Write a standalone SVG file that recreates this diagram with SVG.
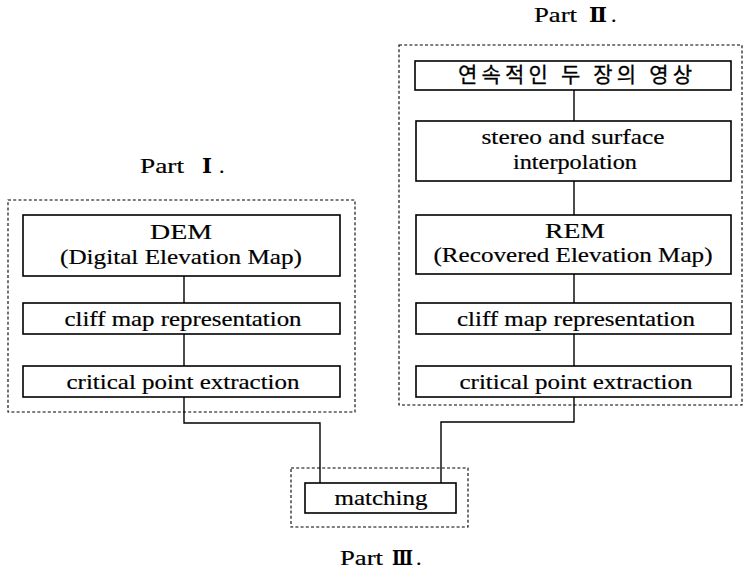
<svg xmlns="http://www.w3.org/2000/svg" width="745" height="569" viewBox="0 0 745 569">
<style>
.bg{fill:#fff}
.box{fill:#fff;stroke:#000;stroke-width:1.6}
.grp{fill:none;stroke:#000;stroke-width:1.1;stroke-dasharray:3 2.2}
.conn{fill:none;stroke:#000;stroke-width:1.4}
.t{font-size:22px;fill:#000;stroke:#000;stroke-width:0.2;text-anchor:middle}
.k{font-size:21px;fill:#000;stroke:#000;stroke-width:0.3;text-anchor:middle}
.lbl{font-size:22px;fill:#000;stroke:#000;stroke-width:0.2}
.num{font-size:20px;font-weight:bold;fill:#000}
</style>
<rect class="bg" x="0" y="0" width="745" height="569"/>

<g id="groups">
  <rect id="part1-frame" class="grp" x="8" y="200" width="347" height="212"/>
  <rect id="part2-frame" class="grp" x="399" y="45" width="343" height="360"/>
  <rect id="part3-frame" class="grp" x="291" y="468" width="177" height="59"/>
</g>

<g id="labels" font-family="'Liberation Serif', 'Times New Roman', serif">
  <text class="lbl" x="140" y="173" textLength="44" lengthAdjust="spacingAndGlyphs">Part</text>
  <text class="num" x="202" y="173" font-family="'DejaVu Serif', serif" textLength="10" lengthAdjust="spacingAndGlyphs">Ⅰ</text>
  <text class="lbl" x="219" y="173">.</text>

  <text class="lbl" x="534" y="22" textLength="43" lengthAdjust="spacingAndGlyphs">Part</text>
  <text class="num" x="589" y="22" font-family="'DejaVu Serif', serif" textLength="18" lengthAdjust="spacingAndGlyphs">Ⅱ</text>
  <text class="lbl" x="611" y="22">.</text>

  <text class="lbl" x="340" y="565" textLength="43" lengthAdjust="spacingAndGlyphs">Part</text>
  <text class="num" x="392" y="565" font-family="'DejaVu Serif', serif" textLength="21" lengthAdjust="spacingAndGlyphs">Ⅲ</text>
  <text class="lbl" x="416" y="565">.</text>
</g>

<g id="connectors">
  <path class="conn" d="M184 276 V303 M184 334 V366 M184 397 V423 H320 V483"/>
  <path class="conn" d="M574 90 V121 M574 181 V215 M574 274 V303 M574 334 V366 M574 397 V422 H441 V483"/>
</g>

<g id="nodes" font-family="'Liberation Serif', 'Times New Roman', serif">
<g id="dem">
  <rect class="box" x="23" y="215" width="317" height="61"/>
  <text class="t" x="181" y="239" textLength="62" lengthAdjust="spacingAndGlyphs">DEM</text>
  <text class="t" x="181" y="264" textLength="242" lengthAdjust="spacingAndGlyphs">(Digital Elevation Map)</text>
</g>
<g id="cliff1">
  <rect class="box" x="23" y="303" width="317" height="31"/>
  <text class="t" x="183" y="326" textLength="237" lengthAdjust="spacingAndGlyphs">cliff map representation</text>
</g>
<g id="critical1">
  <rect class="box" x="23" y="366" width="317" height="31"/>
  <text class="t" x="183" y="389" textLength="233" lengthAdjust="spacingAndGlyphs">critical point extraction</text>
</g>

<g id="images">
  <rect class="box" x="415" y="61" width="316" height="29"/>
  <text class="k" x="575" y="82" font-family="'Noto Sans CJK KR', sans-serif" textLength="234" lengthAdjust="spacing">연속적인 두 장의 영상</text>
</g>
<g id="stereo">
  <rect class="box" x="416" y="121" width="315" height="60"/>
  <text class="t" x="573" y="144" textLength="183" lengthAdjust="spacingAndGlyphs">stereo and surface</text>
  <text class="t" x="575" y="169" textLength="124" lengthAdjust="spacingAndGlyphs">interpolation</text>
</g>
<g id="rem">
  <rect class="box" x="416" y="215" width="315" height="59"/>
  <text class="t" x="575" y="238" textLength="60" lengthAdjust="spacingAndGlyphs">REM</text>
  <text class="t" x="573" y="262" textLength="279" lengthAdjust="spacingAndGlyphs">(Recovered Elevation Map)</text>
</g>
<g id="cliff2">
  <rect class="box" x="416" y="303" width="315" height="31"/>
  <text class="t" x="576" y="326" textLength="238" lengthAdjust="spacingAndGlyphs">cliff map representation</text>
</g>
<g id="critical2">
  <rect class="box" x="416" y="366" width="315" height="31"/>
  <text class="t" x="576" y="389" textLength="233" lengthAdjust="spacingAndGlyphs">critical point extraction</text>
</g>

<g id="matching">
  <rect class="box" x="305" y="483" width="151" height="30"/>
  <text class="t" x="381" y="505" textLength="93" lengthAdjust="spacingAndGlyphs">matching</text>
</g>
</g>
</svg>
